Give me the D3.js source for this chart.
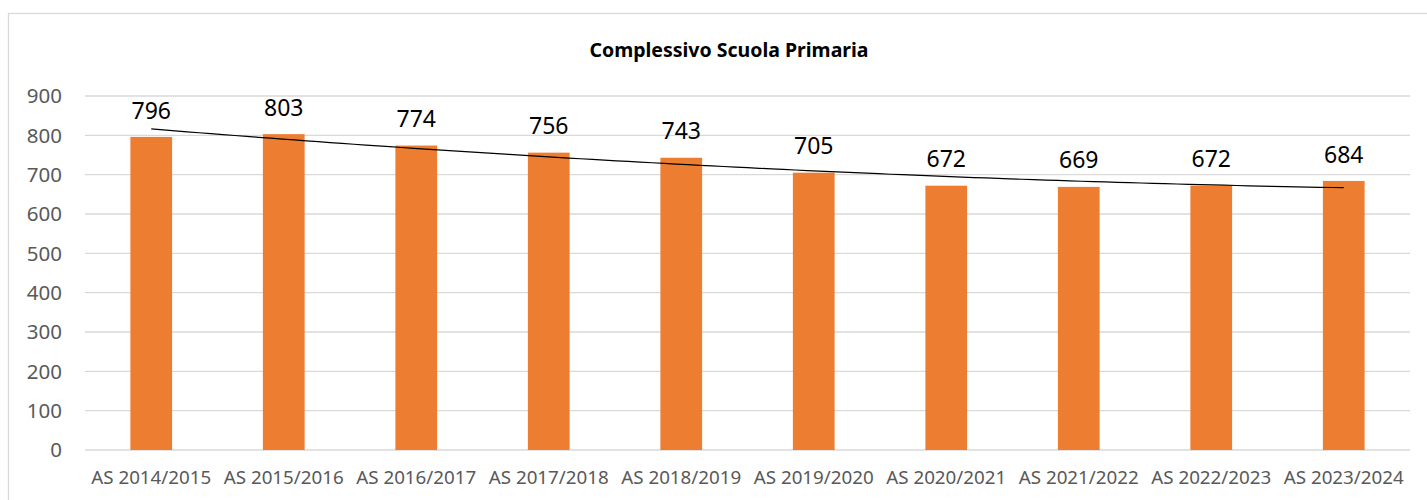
<!DOCTYPE html>
<html><head><meta charset="utf-8">
<script src="https://cdn.jsdelivr.net/npm/d3@7"></script>
<style>html,body{margin:0;padding:0;background:#fff;}svg{display:block;}</style>
</head><body>
<script>
const categories = ["AS 2014/2015","AS 2015/2016","AS 2016/2017","AS 2017/2018","AS 2018/2019","AS 2019/2020","AS 2020/2021","AS 2021/2022","AS 2022/2023","AS 2023/2024"];
const values = [796,803,774,756,743,705,672,669,672,684];
const yTicks = [0,100,200,300,400,500,600,700,800,900];
const title = "Complessivo Scuola Primaria";

const W = 1427, H = 500;
const svg = d3.select("body").append("svg").attr("width", W).attr("height", H);
const FONT = "'Noto Sans', 'Open Sans', sans-serif";

// chart border
svg.append("rect").attr("x", 8.5).attr("y", 13.5).attr("width", W).attr("height", H)
  .attr("fill", "none").attr("stroke", "#d9d9d9").attr("stroke-width", 1.3);

const x = d3.scaleBand().domain(categories).range([85, 1410]).padding(0);
const y = d3.scaleLinear().domain([0, 900]).range([450, 96]);

// gridlines
svg.append("g").selectAll("line").data(yTicks).join("line")
  .attr("x1", 85).attr("x2", 1410)
  .attr("y1", d => y(d)).attr("y2", d => y(d))
  .attr("stroke", "#d9d9d9").attr("stroke-width", 1.3);

// y tick labels
svg.append("g").selectAll("text").data(yTicks).join("text")
  .attr("x", 62).attr("y", d => y(d)).attr("dy", "0.36em")
  .attr("text-anchor", "end").attr("font-family", FONT).attr("font-size", 20.5)
  .attr("fill", "#595959").text(d => d);

// x labels
svg.append("g").selectAll("text").data(categories).join("text")
  .attr("x", d => x(d) + x.bandwidth() / 2).attr("y", 484)
  .attr("text-anchor", "middle").attr("font-family", FONT).attr("font-size", 18.8)
  .attr("fill", "#595959").text(d => d);

// bars
const bw = x.bandwidth() * 0.315;
svg.append("g").selectAll("rect").data(values).join("rect")
  .attr("x", (d, i) => x(categories[i]) + x.bandwidth() / 2 - bw / 2)
  .attr("y", d => y(d)).attr("width", bw).attr("height", d => y(0) - y(d))
  .attr("fill", "#ED7D31");

// data labels
svg.append("g").selectAll("text").data(values).join("text")
  .attr("x", (d, i) => x(categories[i]) + x.bandwidth() / 2)
  .attr("y", d => y(d) - 18.4)
  .attr("text-anchor", "middle").attr("font-family", FONT).attr("font-size", 23)
  .attr("fill", "#000").text(d => d);

// polynomial (order 2) trendline via least squares
const n = values.length;
const xs = values.map((d, i) => i + 1);
const xm = d3.mean(xs), ym = d3.mean(values);
const t = xs.map(v => v - xm);
const t2m = d3.mean(t.map(v => v * v));
const q = t.map(v => v * v - t2m);
const b1 = d3.sum(t.map((v, i) => v * values[i])) / d3.sum(t.map(v => v * v));
const b2 = d3.sum(q.map((v, i) => v * values[i])) / d3.sum(q.map(v => v * v));
const fit = xv => { const tv = xv - xm; return ym + b1 * tv + b2 * (tv * tv - t2m); };
const xi = d3.scaleLinear().domain([1, n]).range([x(categories[0]) + x.bandwidth() / 2, x(categories[n - 1]) + x.bandwidth() / 2]);
const samples = d3.range(0, 101).map(k => 1 + (n - 1) * k / 100);
svg.append("path").datum(samples)
  .attr("d", d3.line().x(v => xi(v)).y(v => y(fit(v))))
  .attr("fill", "none").attr("stroke", "#000").attr("stroke-width", 1.2);

// title
svg.append("text").attr("x", 729).attr("y", 56.5).attr("text-anchor", "middle")
  .attr("font-family", FONT).attr("font-weight", "bold").attr("font-size", 19.5)
  .attr("fill", "#000").text(title);
</script>
</body></html>
